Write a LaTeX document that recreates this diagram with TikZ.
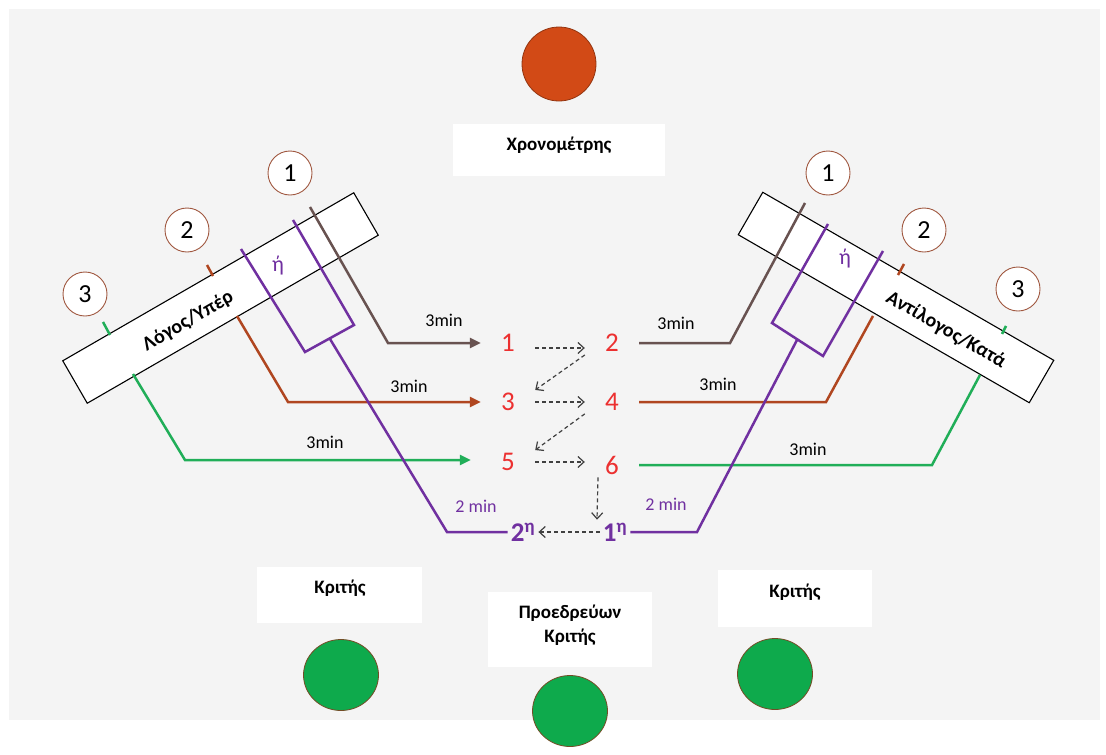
\documentclass[tikz,border=0pt]{standalone}
\usepackage{fontspec}
\setmainfont{Carlito}
\usetikzlibrary{shapes.geometric,arrows.meta}

\definecolor{bggray}{RGB}{244,244,244}
\definecolor{sone}{RGB}{104,82,80}
\definecolor{stwo}{RGB}{176,70,32}
\definecolor{sthree}{RGB}{32,174,88}
\definecolor{rebut}{RGB}{112,48,160}
\definecolor{numred}{RGB}{236,48,48}
\definecolor{ringbrown}{RGB}{160,88,64}
\definecolor{timerred}{RGB}{210,74,22}
\definecolor{judgegreen}{RGB}{14,170,76}

\begin{document}
\begin{tikzpicture}[x=1pt,y=-1pt,
    bench/.style={draw, fill=white, line width=1.1pt, inner sep=0pt, minimum width=336pt, minimum height=49pt},
    benchtxt/.style={font=\fontsize{20}{24}\selectfont\bfseries},
    ring/.style={circle, draw=ringbrown, line width=0.9pt, fill=white, minimum size=44pt, inner sep=0pt, font=\fontsize{26}{30}\selectfont},
    card/.style={fill=white, inner sep=0pt},
    role/.style={font=\fontsize{19}{24}\selectfont\bfseries, align=center},
    seat/.style={ellipse, draw=black!40!brown, line width=0.8pt, fill=judgegreen, minimum width=75pt, minimum height=71pt},
    num/.style={text=numred, font=\fontsize{27}{30}\selectfont, minimum width=54pt, inner sep=3pt},
    fin/.style={text=rebut, font=\fontsize{27}{30}\selectfont\bfseries, inner sep=3pt},
    talk/.style={line width=2.5pt},
    tip/.style={-{Triangle[length=11pt,width=10pt]}},
    flow/.style={-{Straight Barb[length=6pt,width=11pt]}, dash pattern=on 4pt off 3pt, line width=1.2pt, black!75},
    mins/.style={font=\fontsize{18}{20}\selectfont},
    orn/.style={font=\fontsize{22}{24}\selectfont, text=rebut}
]
\useasboundingbox (0,0) rectangle (1106,755);
\fill[white] (0,0) rectangle (1106,755);
\fill[bggray] (9,9) rectangle (1100,720); % grey sheet

% timekeeper
\node[circle, fill=timerred, draw=timerred!70!black, line width=0.8pt, minimum size=74pt] (timer) at (559,64) {};
\node[card, minimum width=212pt, minimum height=52pt] (timerbox) at (559,150) {};
\node[role] (timertxt) at (559,145) {Χρονομέτρης};

% the two benches
\node[bench, rotate=30] (pro) at (220.5,298) {};
\node[bench, rotate=-30] (con) at (896,297.5) {};

% speaker numbers
\node[ring] (p1) at (290,173) {1};
\node[ring] (p2) at (187,230) {2};
\node[ring] (p3) at (85,294) {3};
\node[ring] (c1) at (828,173) {1};
\node[ring] (c2) at (924,230) {2};
\node[ring] (c3) at (1018,289) {3};

% order of speeches
\node[num] (n1) at (508,343) {1};
\node[num] (n2) at (612,343) {2};
\node[num] (n3) at (508,402) {3};
\node[num] (n4) at (612,402) {4};
\node[num] (n5) at (508,462) {5};
\node[num] (n6) at (612,465) {6};
\node[fin] (f2) at (523,532) {2\textsuperscript{η}};
\node[fin] (f1) at (615,532) {1\textsuperscript{η}};

% left side lines
\coordinate (pa1) at (310,207); \coordinate (pb1) at (388,343);
\coordinate (pa2) at (237,316); \coordinate (pb2) at (288,402);
\coordinate (pa3) at (133,374); \coordinate (pb3) at (185,460);
\coordinate (pq) at (330,339); \coordinate (pr) at (447,532);
\draw[talk, sone, tip] (pa1) -- (pb1) -- (pb1 -| n1.west); % first speaker
\draw[talk, stwo] (207,265) -- (213,276); % tick
\draw[talk, stwo, tip] (pa2) -- (pb2) -- (pb2 -| n3.west); % second speaker
\draw[talk, sthree] (103,322) -- (110,335); % tick
\draw[talk, sthree, tip, shorten >=10pt] (pa3) -- (pb3) -- (pb3 -| n5.west); % third speaker
\draw[talk, rebut] (241,249) -- (305,352) -- (354,325) -- (293,220); % either one
\draw[talk, rebut] (pq) -- (pr) -- (pr -| f2.west); % closing

% right side lines
\coordinate (qa1) at (805,203); \coordinate (qb1) at (730,343);
\coordinate (qa2) at (873,316); \coordinate (qb2) at (826,402);
\coordinate (qa3) at (980,375); \coordinate (qb3) at (932,465);
\coordinate (qq) at (797,340); \coordinate (qr) at (697,532);
\draw[talk, sone] (n2.east) -- (qb1) -- (qa1); % first speaker
\draw[talk, stwo] (898,275) -- (904,264); % tick
\draw[talk, stwo] (n4.east) -- (qb2) -- (qa2); % second speaker
\draw[talk, sthree] (1002,334) -- (1006,326); % tick
\draw[talk, sthree] (n6.east) -- (qb3) -- (qa3); % third speaker
\draw[talk, rebut] (828,224) -- (772,323) -- (823,356) -- (883,251); % either one
\draw[talk, rebut] (qr -| f1.east) -- (qr) -- (qq); % closing

% bench names on top
\node[benchtxt, rotate=30] (protxt) at (188,321) {Λόγος/Υπέρ};
\node[benchtxt, rotate=-30] (contxt) at (946,330) {Αντίλογος/Κατά};
\node[orn] (por) at (278,266) {ή};
\node[orn] (cor) at (845,259) {ή};

% times
\node[mins] (m1) at (444,320) {3min};
\node[mins] (m2) at (409,386) {3min};
\node[mins] (m3) at (325,442) {3min};
\node[mins] (m4) at (676,323) {3min};
\node[mins] (m5) at (718,384) {3min};
\node[mins] (m6) at (808,449) {3min};
\node[mins, text=rebut] (m7) at (476,506) {2 min};
\node[mins, text=rebut] (m8) at (666,504) {2 min};

% zig-zag order
\draw[flow] ([yshift=-5pt]n1.east) -- ([yshift=-5pt]n2.west);
\draw[flow] (n2.south west) -- (n3.north east);
\draw[flow] (n3.east) -- (n4.west);
\draw[flow] (n4.south west) -- (n5.north east);
\draw[flow] (n5.east) -- (n5.east -| n6.west);
\draw[flow] ([xshift=-14pt]n6.south) -- ([xshift=-18pt]f1.north);
\draw[flow] (f1.west) -- (f2.east);

% judges
\node[card, minimum width=165pt, minimum height=56pt] (jlbox) at (339.5,595) {};
\node[role] (jltxt) at (340,588) {Κριτής};
\node[seat] (jl) at (341,675) {};
\node[card, minimum width=164pt, minimum height=75pt] (jcbox) at (570,629.5) {};
\node[role] (jctxt) at (570,625) {Προεδρεύων\\Κριτής};
\node[seat] (jc) at (570,711) {};
\node[card, minimum width=154pt, minimum height=57pt] (jrbox) at (795,598.5) {};
\node[role] (jrtxt) at (795,592) {Κριτής};
\node[seat] (jr) at (775,674) {};
\end{tikzpicture}
\end{document}
